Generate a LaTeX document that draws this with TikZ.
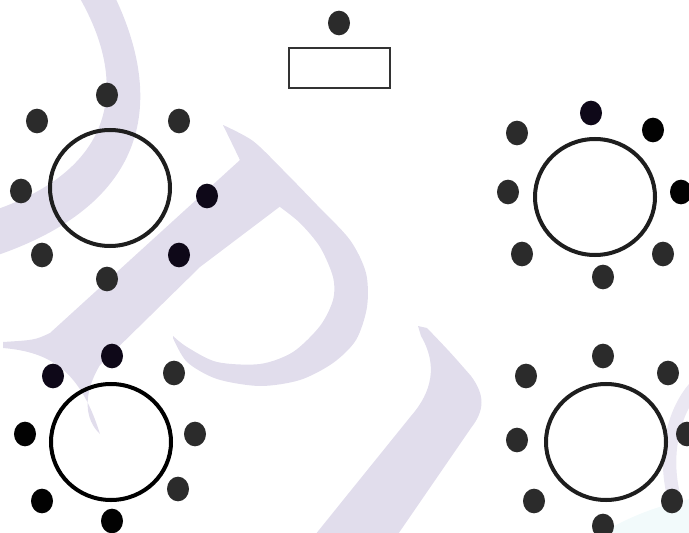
\documentclass[tikz,border=0pt]{standalone}
\usetikzlibrary{shapes.geometric}
\definecolor{wm}{RGB}{225,221,236}
\definecolor{wmc}{RGB}{242,250,251}
\definecolor{dotg}{RGB}{43,43,43}
\definecolor{dotd}{RGB}{14,8,24}
\definecolor{dotk}{RGB}{2,2,2}
\definecolor{ringc}{RGB}{30,30,30}
\tikzset{
  seat/.style={ellipse, fill=#1, draw=none, minimum width=0.66cm, minimum height=0.74cm, inner sep=0pt},
  seat/.default=dotg,
  tablering/.style={ellipse, draw=ringc, line width=0.12cm, minimum width=3.6cm, minimum height=3.48cm, inner sep=0pt},
  boardbox/.style={rectangle, draw=black!80, line width=0.04cm, minimum width=3.03cm, minimum height=1.2cm, inner sep=0pt},
  wmark/.style={fill=wm, draw=none}
}
\begin{document}
\begin{tikzpicture}[x=0.03cm,y=-0.03cm]
\useasboundingbox (0,0) rectangle (689,533);
\begin{scope}
\clip (0,0) rectangle (689,533);
% watermark
\fill[wmark] (78,-5) -- (114,-5) .. controls (160,90) and (160,200) .. (-5,256) -- (-5,210) .. controls (125,165) and (125,75) .. (78,-5) -- cycle;
\fill[wmark] (223,125) -- (233,140) -- (240,160) -- (50,333) .. controls (35,340) .. (3,342) -- (3,348) .. controls (50,352) and (80,370) .. (100,434) .. controls (85,420) and (82,395) .. (100,365) -- (200,267) -- (282,205) -- cycle;
\fill[wmark] plot[smooth] coordinates {(223,125) (253,141) (283,170) (317,205) (350,240) (366,273) (367,307) (356,340) (333,363) (300,380) (260,386) (217,379) (187,362) (173,338)} -- plot[smooth] coordinates {(173,336) (187,347) (217,362) (260,364) (293,352) (320,326) (333,300) (333,277) (320,247) (300,223) (280,207)} -- (240,160) -- cycle;
\fill[wmark] (418,326) -- (427,328) .. controls (450,352) .. (471,376) .. controls (485,395) and (485,410) .. (471,428) -- (394,540) -- (311,540) -- (344,499) -- (411,416) .. controls (432,392) and (438,365) .. (421,336) -- cycle;
\draw[wm!70, line width=0.4cm] (697,385) .. controls (664,420) and (659,490) .. (692,535);
\fill[wmc] (590,540) .. controls (630,515) and (660,505) .. (695,498) -- (695,540) -- cycle;
\end{scope}

% top board
\node[seat] (hd) at (339,23) {};
\node[boardbox] (board) at (339.5,68) {};

% top-left table
\node[tablering] (tl) at (110,188) {};
\node[seat] (tl-t) at (107,95) {};
\node[seat] (tl-ul) at (37,121) {};
\node[seat] (tl-ur) at (179,121) {};
\node[seat] (tl-l) at (21,191) {};
\node[seat=dotd] (tl-r) at (207,196) {};
\node[seat] (tl-ll) at (42,255) {};
\node[seat] (tl-b) at (107,279) {};
\node[seat=dotd] (tl-lr) at (179,255) {};

% top-right table
\node[tablering] (tr) at (595,197) {};
\node[seat=dotd] (tr-t) at (591,113) {};
\node[seat] (tr-ul) at (517,133) {};
\node[seat=dotk] (tr-ur) at (653,130) {};
\node[seat] (tr-l) at (508,192) {};
\node[seat=dotk] (tr-r) at (681,192) {};
\node[seat] (tr-ll) at (522,254) {};
\node[seat] (tr-b) at (603,277) {};
\node[seat] (tr-lr) at (663,254) {};

% bottom-left table
\node[tablering, draw=black] (bl) at (111,442) {};
\node[seat=dotd] (bl-t) at (112,356) {};
\node[seat=dotd] (bl-ul) at (53,376) {};
\node[seat] (bl-ur) at (174,373) {};
\node[seat=dotk] (bl-l) at (25,434) {};
\node[seat] (bl-r) at (195,434) {};
\node[seat=dotk] (bl-ll) at (42,501) {};
\node[seat=dotk] (bl-b) at (112,521) {};
\node[seat] (bl-lr) at (178,489) {};

% bottom-right table
\node[tablering] (br) at (606,442) {};
\node[seat] (br-t) at (603,356) {};
\node[seat] (br-ul) at (526,376) {};
\node[seat] (br-ur) at (668,373) {};
\node[seat] (br-l) at (517,440) {};
\node[seat] (br-r) at (687,434) {};
\node[seat] (br-ll) at (534,501) {};
\node[seat] (br-b) at (603,526) {};
\node[seat] (br-lr) at (672,501) {};
\end{tikzpicture}
\end{document}
